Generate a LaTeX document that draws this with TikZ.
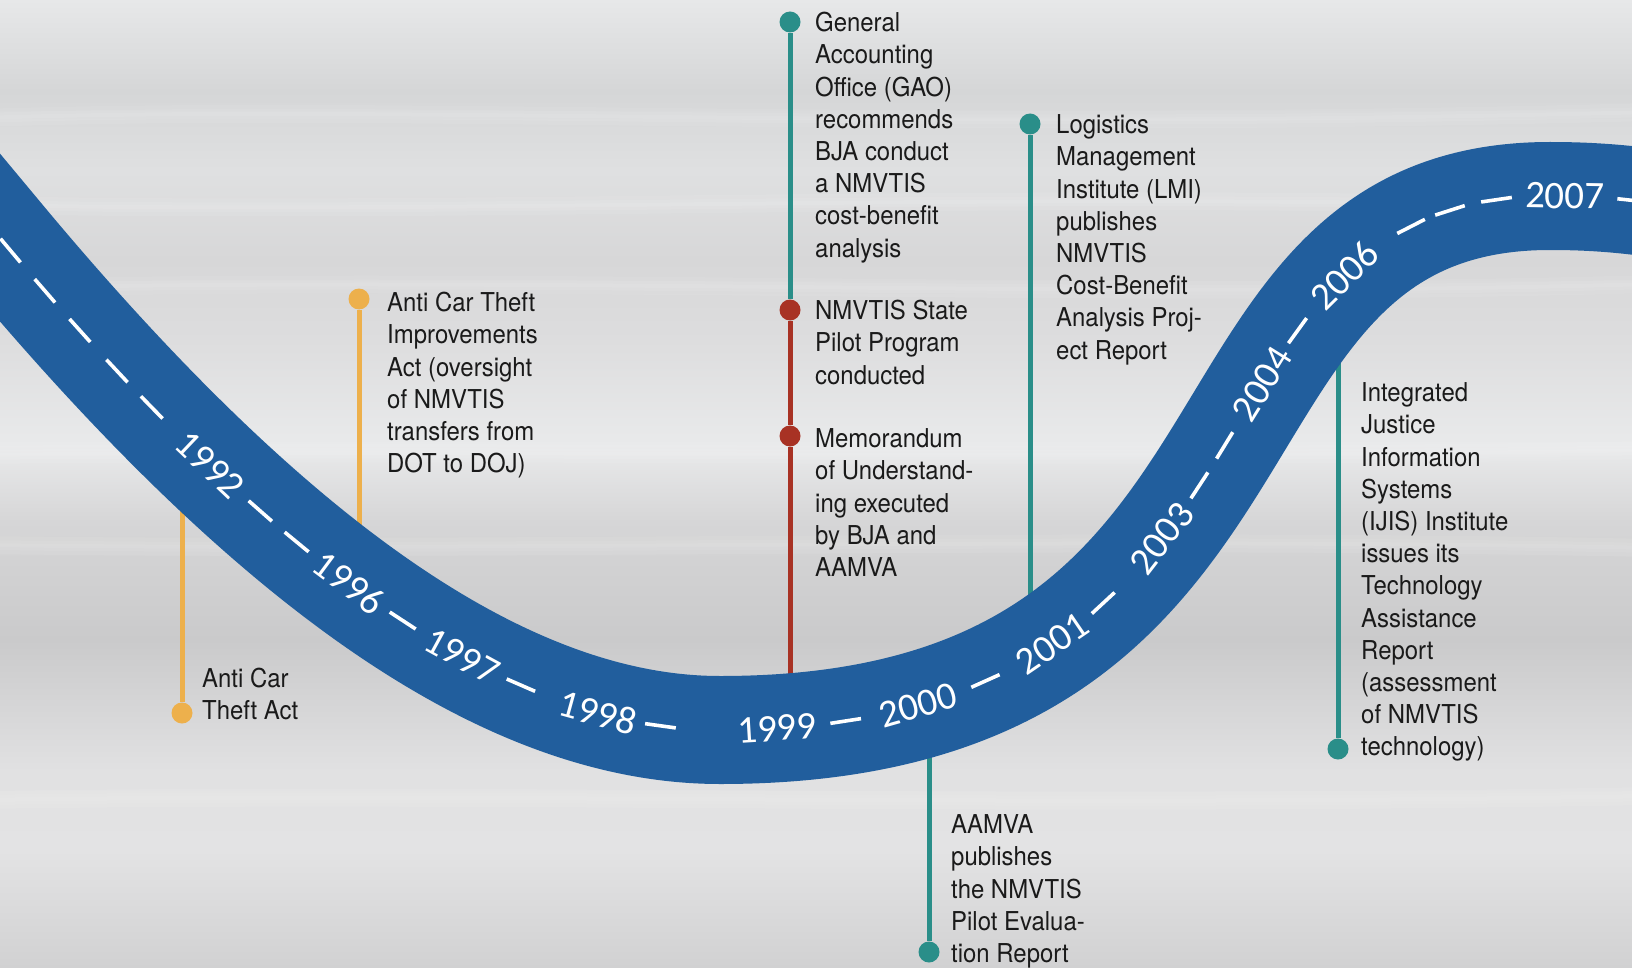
\documentclass[tikz,border=0pt]{standalone}
\usepackage{fontspec}
\setmainfont{TeX Gyre Heros}[FakeStretch=0.92]
\newfontfamily\yearfont{Carlito}
\definecolor{roadblue}{HTML}{215E9D}
\definecolor{tealc}{HTML}{2A8E89}
\definecolor{redc}{HTML}{A83224}
\definecolor{orangec}{HTML}{EDB04C}
\definecolor{txtc}{HTML}{1A1A1A}
\definecolor{bgA}{HTML}{E7E8E9}
\definecolor{bgB}{HTML}{D5D6D7}
\definecolor{bgC}{HTML}{DFE0E1}
\definecolor{bgD}{HTML}{D7D7D8}
\definecolor{bgE}{HTML}{DDDDDE}
\definecolor{bgF}{HTML}{E9EAEB}
\definecolor{bgG}{HTML}{D6D6D7}
\definecolor{bgH}{HTML}{CACACB}
\definecolor{bgI}{HTML}{E1E1E2}
\definecolor{bgJ}{HTML}{E3E3E4}
\definecolor{bgK}{HTML}{D1D1D2}
\tikzset{
  road/.style={line width=108pt, draw=roadblue, line join=round},
  dashbar/.style={fill=white, draw=none, inner sep=0pt, minimum width=31pt, minimum height=3.6pt, sloped},
  yearlbl/.style={text=white, font=\yearfont\fontsize{39}{39}\selectfont, inner sep=0pt, sloped},
  stem/.style={line width=5pt},
  dotc/.style={circle, draw=none, inner sep=0pt, minimum size=21pt},
  txt/.style={anchor=north west, inner sep=0pt, align=left, text=txtc, font=\fontsize{26}{32.2}\selectfont},
  streak/.style={white, opacity=0.07, line cap=round},
}
\begin{document}
\begin{tikzpicture}[x=1pt,y=-1pt]
\useasboundingbox (0,0) rectangle (1632,968);
\clip (0,0) rectangle (1632,968);
% background
\foreach \ya/\yb/\ca/\cb in {0/91/bgA/bgB, 90/171/bgB/bgC, 170/261/bgC/bgD, 260/341/bgD/bgE, 340/446/bgE/bgF, 445/521/bgF/bgG, 520/641/bgG/bgH, 640/771/bgH/bgI, 770/851/bgI/bgJ, 850/968/bgJ/bgK} {
  \fill[top color=\ca, bottom color=\cb] (0,\ya) rectangle (1632,\yb);
}
% soft horizontal streaks (layered for a blurred look)
\foreach \w in {18,10,4} {
  \draw[streak, line width=\w pt] (-20,118) .. controls (400,104) and (900,132) .. (1650,112);
  \draw[streak, line width=\w pt] (-20,205) .. controls (500,215) and (1000,190) .. (1650,208);
  \draw[streak, line width=\w pt] (-20,288) .. controls (600,276) and (1100,300) .. (1650,284);
  \draw[streak, line width=\w pt] (-20,455) .. controls (500,448) and (1000,462) .. (1650,450);
  \draw[streak, line width=\w pt] (-20,545) .. controls (500,552) and (1100,536) .. (1650,548);
  \draw[streak, line width=\w pt] (-20,800) .. controls (500,792) and (1000,808) .. (1650,796);
}
% dots
\node[dotc, fill=orangec] (dA) at (182,713) {};
\node[dotc, fill=orangec] (dB) at (359,299) {};
\node[dotc, fill=tealc] (dC) at (790,22) {};
\node[dotc, fill=redc] (dD) at (790,310) {};
\node[dotc, fill=redc] (dE) at (790,436) {};
\node[dotc, fill=tealc] (dF) at (1030,124) {};
\node[dotc, fill=tealc] (dG) at (929,952) {};
\node[dotc, fill=tealc] (dH) at (1338,749) {};
% free ends of stems (hidden under the road)
\coordinate (eA) at (182,470);
\coordinate (eB) at (359,655);
\coordinate (eE) at (790,700);
\coordinate (eF) at (1030,640);
\coordinate (eG) at (929,720);
\coordinate (eH) at (1338,320);
% stems
\draw[stem, orangec] (dA) -- (eA);
\draw[stem, orangec] (dB) -- (eB);
\draw[stem, tealc] (dC) -- (dD);
\draw[stem, redc] (dD) -- (dE);
\draw[stem, redc] (dE) -- (eE);
\draw[stem, tealc] (dF) -- (eF);
\draw[stem, tealc] (dG) -- (eG);
\draw[stem, tealc] (dH) -- (eH);
% road
\draw[road] (-60,166) -- (0,238) .. controls (250,538) and (490,730) .. (720,730)
  .. controls (1320,730) and (1160,196) .. (1550,196)
  .. controls (1600,196) and (1640,200) .. (1700,210);
% lane marks and years
\path (0,238) .. controls (250,538) and (490,730) .. (720,730)
  node[dashbar,pos=0.014] (m1) {}
  node[dashbar,pos=0.06] (m2) {}
  node[dashbar,pos=0.107] (m3) {}
  node[dashbar,pos=0.157] (m4) {}
  node[dashbar,pos=0.204] (m5) {}
  node[yearlbl,pos=0.283] (y1992) {1992}
  node[dashbar,pos=0.352] (m6) {}
  node[dashbar,pos=0.402] (m7) {}
  node[yearlbl,pos=0.474] (y1996) {1996}
  node[dashbar,pos=0.549] (m8) {}
  node[yearlbl,pos=0.632] (y1997) {1997}
  node[dashbar,pos=0.715] (m9) {}
  node[yearlbl,pos=0.825] (y1998) {1998}
  node[dashbar,pos=0.914] (m10) {};
\path (720,730) .. controls (1320,730) and (1160,196) .. (1550,196)
  node[yearlbl,pos=0.033] (y1999) {1999}
  node[dashbar,pos=0.077] (m11) {}
  node[yearlbl,pos=0.13] (y2000) {2000}
  node[dashbar,pos=0.187] (m12) {}
  node[yearlbl,pos=0.255] (y2001) {2001}
  node[dashbar,pos=0.317] (m13) {}
  node[yearlbl,pos=0.405] (y2003) {2003}
  node[dashbar,pos=0.472] (m14) {}
  node[dashbar,pos=0.522] (m15) {}
  node[yearlbl,pos=0.6] (y2004) {2004}
  node[dashbar,pos=0.672] (m16) {}
  node[yearlbl,pos=0.757] (y2006) {2006}
  node[dashbar,pos=0.855] (m17) {}
  node[dashbar,pos=0.902] (m18) {}
  node[dashbar,pos=0.951] (m19) {};
\path (1550,196) .. controls (1600,196) and (1640,200) .. (1700,210)
  node[yearlbl,pos=0.1] (y2007) {2007}
  node[dashbar,pos=0.58] (m20) {};
% texts
\node[txt] (tA) at (202,665) {\strut Anti Car\\Theft Act};
\node[txt] (tB) at (387,289) {\strut Anti Car Theft\\Improvements\\Act (oversight\\of NMVTIS\\transfers from\\DOT to DOJ)};
\node[txt] (tC) at (815,9) {\strut General\\Accounting\\Office (GAO)\\recommends\\BJA conduct\\a NMVTIS\\cost-benefit\\analysis};
\node[txt] (tD) at (815,297) {\strut NMVTIS State\\Pilot Program\\conducted};
\node[txt] (tE) at (815,425) {\strut Memorandum\\of Understand-\\ing executed\\by BJA and\\AAMVA};
\node[txt] (tF) at (1056,111) {\strut Logistics\\Management\\Institute (LMI)\\publishes\\NMVTIS\\Cost-Benefit\\Analysis Proj-\\ect Report};
\node[txt] (tG) at (951,811) {\strut AAMVA\\publishes\\the NMVTIS\\Pilot Evalua-\\tion Report};
\node[txt] (tH) at (1361,379) {\strut Integrated\\Justice\\Information\\Systems\\(IJIS) Institute\\issues its\\Technology\\Assistance\\Report\\(assessment\\of NMVTIS\\technology)};
\end{tikzpicture}
\end{document}
